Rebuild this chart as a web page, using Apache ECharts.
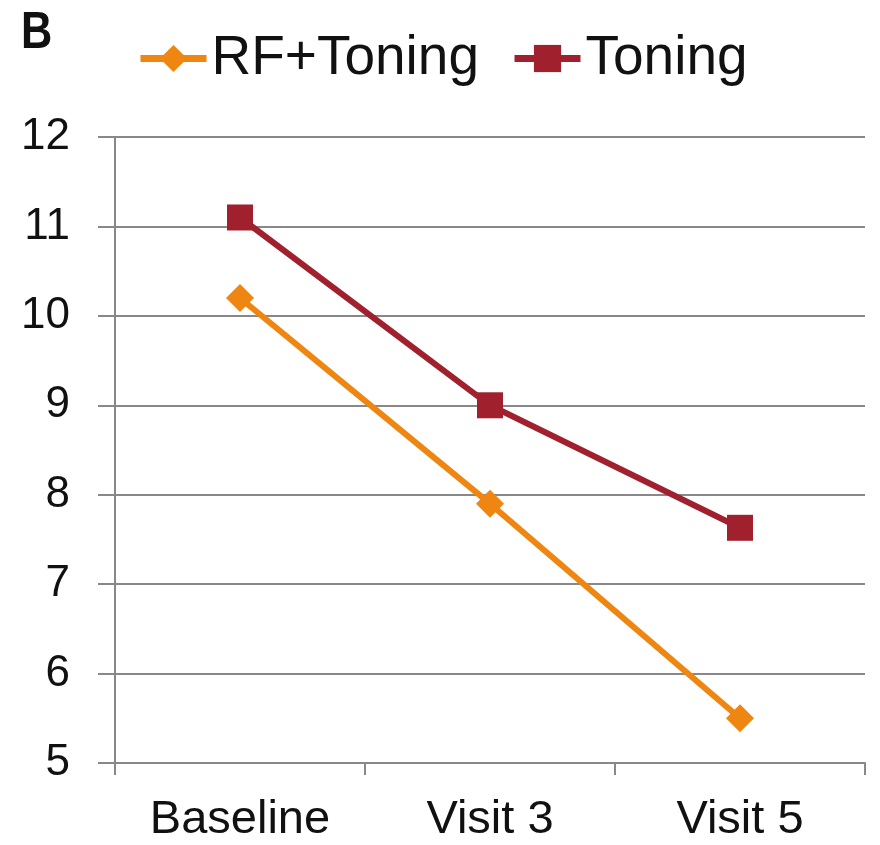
<!DOCTYPE html>
<html>
<head>
<meta charset="utf-8">
<script src="https://cdn.jsdelivr.net/npm/echarts@6/dist/echarts.min.js"></script>
<style>html,body{margin:0;padding:0;background:#fff}#c{width:880px;height:845px}</style>
</head>
<body>
<div id="c"></div>
<script>
const categories = ['Baseline', 'Visit 3', 'Visit 5'];
const rfToning = [10.2, 7.9, 5.5];
const toning = [11.1, 9.0, 7.63];
const seriesNames = ['RF+Toning', 'Toning'];
const panelLabel = 'B';

const chart = echarts.init(document.getElementById('c'));
const font = '"Liberation Sans", Arial, sans-serif';
chart.setOption({
  backgroundColor: '#fff',
  animation: false,
  graphic: [{
    type: 'text', left: 21, top: 8, scaleX: 0.85,
    style: { text: panelLabel, fontFamily: font, fontWeight: 'bold', fontSize: 51, fill: '#111' }
  }],
  legend: {
    left: 137, top: 31, padding: 0, itemWidth: 66, itemHeight: 34, itemGap: 32,
    lineStyle: { width: 7 },
    textStyle: { fontFamily: font, fontSize: 55, color: '#111' },
    data: seriesNames
  },
  grid: { left: 115, right: 15, top: 137, bottom: 82, containLabel: false },
  xAxis: {
    type: 'category', data: categories, boundaryGap: true,
    axisLine: { lineStyle: { color: '#888', width: 2 } },
    axisTick: { show: true, length: 12, lineStyle: { color: '#888', width: 2 } },
    axisLabel: { fontFamily: font, fontSize: 47, color: '#111', margin: 34 }
  },
  yAxis: {
    type: 'value', min: 5, max: 12, interval: 1,
    axisLine: { show: true, lineStyle: { color: '#888', width: 2 } },
    axisTick: { show: true, inside: false, length: 17, lineStyle: { color: '#888', width: 2 } },
    axisLabel: { fontFamily: font, fontSize: 44, color: '#111', margin: 45 },
    splitLine: { lineStyle: { color: '#888', width: 2 } }
  },
  series: [
    {
      name: seriesNames[0], type: 'line', data: rfToning,
      symbol: 'diamond', symbolSize: 28,
      itemStyle: { color: '#EE8611' },
      lineStyle: { color: '#EE8611', width: 6 }
    },
    {
      name: seriesNames[1], type: 'line', data: toning,
      symbol: 'rect', symbolSize: 26,
      itemStyle: { color: '#A0202E' },
      lineStyle: { color: '#A0202E', width: 6 }
    }
  ]
});
</script>
</body>
</html>
